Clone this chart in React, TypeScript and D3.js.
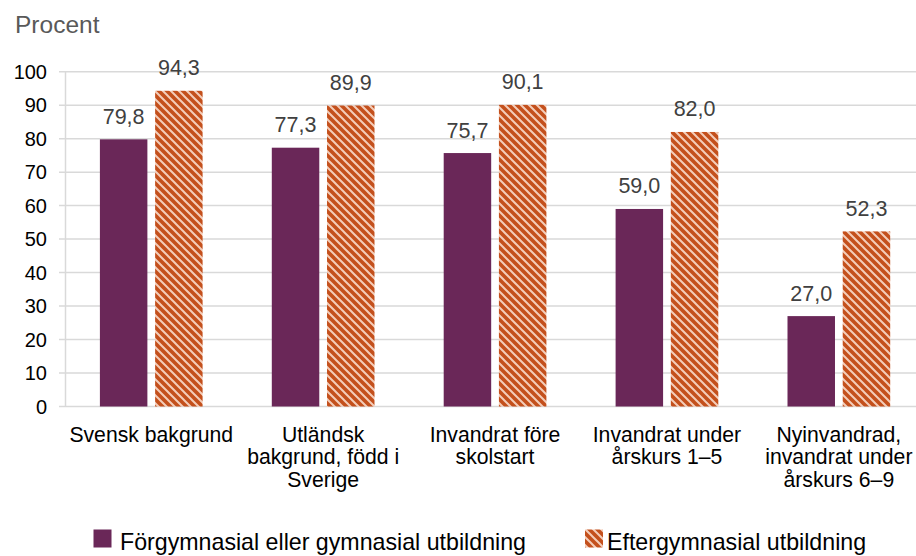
import React from "react";
import * as d3 from "d3";

const categories: string[][] = [
  ["Svensk bakgrund"],
  ["Utländsk", "bakgrund, född i", "Sverige"],
  ["Invandrat före", "skolstart"],
  ["Invandrat under", "årskurs 1–5"],
  ["Nyinvandrad,", "invandrat under", "årskurs 6–9"],
];
const seriesNames = ["Förgymnasial eller gymnasial utbildning", "Eftergymnasial utbildning"];
const forgymnasial = [79.8, 77.3, 75.7, 59.0, 27.0];
const eftergymnasial = [94.3, 89.9, 90.1, 82.0, 52.3];
const yTicks = [0, 10, 20, 30, 40, 50, 60, 70, 80, 90, 100];
const yLabel = "Procent";

const W = 916;
const H = 556;
const FONT = "'Liberation Sans', Arial, sans-serif";
const PURPLE = "#6a2758";
const ORANGE = "#c4501c";

export default function App() {
  const x0 = d3
    .scaleBand<number>()
    .domain(d3.range(categories.length))
    .range([65.3, 924.8])
    .paddingInner(0)
    .paddingOuter(0);
  const x1 = d3
    .scaleBand<number>()
    .domain([0, 1])
    .range([-51.35, 51.35])
    .paddingInner(0.14)
    .paddingOuter(0);
  const y = d3.scaleLinear().domain([0, 100]).range([406.5, 71.7]);
  const series = [forgymnasial, eftergymnasial];
  const fmt = (v: number) => v.toFixed(1).replace(".", ",");

  return (
    <svg
      width={W}
      height={H}
      style={{ position: "absolute", left: 0, top: 0, background: "#fff" }}
      fontFamily={FONT}
    >
      <defs>
        <pattern id="hatch" patternUnits="userSpaceOnUse" width={8} height={8}>
          <rect width={8} height={8} fill={ORANGE} />
          <path
            d="M-2,-2 L10,10 M-2,6 L2,10 M6,-2 L10,2"
            stroke="#f4cdb9"
            strokeWidth={2}
          />
        </pattern>
      </defs>
      <rect width={W} height={H} fill="#fff" />
      <text x={15} y={33} fontSize={24.5} fill="#595959">
        {yLabel}
      </text>
      {yTicks.map((t) => (
        <g key={t}>
          <line x1={59} x2={924.8} y1={y(t)} y2={y(t)} stroke="#d9d9d9" strokeWidth={1.5} />
          <text x={47} y={y(t)} dy="0.36em" textAnchor="end" fontSize={20} fill="#000">
            {t}
          </text>
        </g>
      ))}
      <line x1={65.5} x2={65.5} y1={y(100)} y2={y(0)} stroke="#d9d9d9" strokeWidth={1.5} />
      {categories.map((_, i) => {
        const cx = (x0(i) as number) + x0.bandwidth() / 2;
        return (
          <g key={i}>
            {series.map((s, j) => {
              const bx = cx + (x1(j) as number);
              const v = s[i];
              return (
                <g key={j}>
                  <rect
                    x={bx}
                    y={y(v)}
                    width={x1.bandwidth()}
                    height={y(0) - y(v)}
                    fill={j === 0 ? PURPLE : "url(#hatch)"}
                  />
                  <text
                    x={bx + x1.bandwidth() / 2}
                    y={y(v) - 15.5}
                    textAnchor="middle"
                    fontSize={21.5}
                    fill="#404040"
                  >
                    {fmt(v)}
                  </text>
                </g>
              );
            })}
          </g>
        );
      })}
      {categories.map((lines, i) => {
        const cx = (x0(i) as number) + x0.bandwidth() / 2;
        return (
          <text key={i} textAnchor="middle" fontSize={21.2} fill="#000">
            {lines.map((l, k) => (
              <tspan key={k} x={cx} y={441.7 + k * 22.5}>
                {l}
              </tspan>
            ))}
          </text>
        );
      })}
      <g>
        <rect x={93.5} y={529.5} width={18} height={18} fill={PURPLE} />
        <text x={120} y={549.5} fontSize={23.2} fill="#000">
          {seriesNames[0]}
        </text>
        <rect x={585} y={529.5} width={18} height={18} fill="url(#hatch)" />
        <text x={607} y={549.5} fontSize={23.2} fill="#000">
          {seriesNames[1]}
        </text>
      </g>
    </svg>
  );
}
